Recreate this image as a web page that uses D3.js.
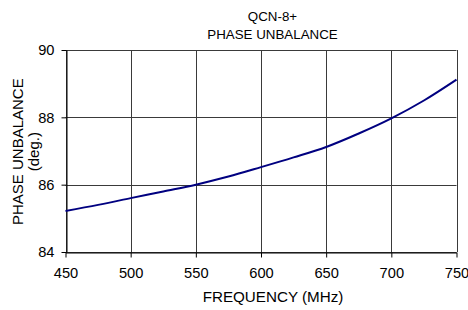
<!DOCTYPE html>
<html>
<head>
<meta charset="utf-8">
<script src="https://cdn.jsdelivr.net/npm/d3@7"></script>
<style>
  body { margin: 0; background: #fff; }
  text { font-family: "Liberation Sans", Arial, sans-serif; fill: #000; }
</style>
</head>
<body>
<div id="chart"></div>
<script>
const width = 468;
const height = 310;

// Data
const freq = [450, 475, 500, 525, 550, 575, 600, 625, 650, 675, 700, 725, 750];
const unbalance = [85.22, 85.40, 85.60, 85.80, 86.00, 86.24, 86.52, 86.81, 87.12, 87.52, 87.97, 88.50, 89.12];
const xTicks = [450, 500, 550, 600, 650, 700, 750];
const yTicks = [84, 86, 88, 90];
const titleLines = ["QCN-8+", "PHASE UNBALANCE"];

const margin = {left: 65.5, right: 11.5, top: 50, bottom: 58};

const svg = d3.select("#chart")
    .append("svg")
    .attr("width", width)
    .attr("height", height);

const x = d3.scaleLinear()
    .domain([450, 750])
    .range([margin.left, width - margin.right]);
const y = d3.scaleLinear()
    .domain([84, 90])
    .range([height - margin.bottom, margin.top]);

// grid
const grid = svg.append("g").attr("stroke", "#3a3a3a").attr("stroke-width", 1);
grid.selectAll("line.v")
    .data(xTicks)
    .join("line")
    .attr("class", "v")
    .attr("x1", d => Math.round(x(d)) + 0.5)
    .attr("x2", d => Math.round(x(d)) + 0.5)
    .attr("y1", y(90))
    .attr("y2", y(84));
grid.selectAll("line.h")
    .data(yTicks)
    .join("line")
    .attr("class", "h")
    .attr("x1", x(450))
    .attr("x2", x(750))
    .attr("y1", d => Math.round(y(d)) + 0.5)
    .attr("y2", d => Math.round(y(d)) + 0.5);

// axes
const xAxis = svg.append("g")
    .attr("transform", `translate(0,${Math.round(y(84)) + 0.5})`)
    .call(d3.axisBottom(x).tickValues(xTicks).tickFormat(d3.format("d"))
        .tickSize(5).tickSizeOuter(0).tickPadding(10));
const yAxis = svg.append("g")
    .attr("transform", `translate(${Math.round(x(450)) + 0.5},0)`)
    .call(d3.axisLeft(y).tickValues(yTicks).tickFormat(d3.format("d"))
        .tickSize(5).tickSizeOuter(0).tickPadding(7));
[xAxis, yAxis].forEach(g => {
    g.selectAll("path, line").attr("stroke", "#000");
    g.selectAll("text")
        .style("font-size", "14.67px")
        .style("font-family", "'Liberation Sans', Arial, sans-serif")
        .attr("fill", "#000");
});

// curve
svg.append("path")
    .datum(freq.map((f, i) => [f, unbalance[i]]))
    .attr("fill", "none")
    .attr("stroke", "#000080")
    .attr("stroke-width", 2)
    .attr("d", d3.line().x(d => x(d[0])).y(d => y(d[1])).curve(d3.curveMonotoneX));

// titles
svg.selectAll("text.title")
    .data(titleLines)
    .join("text")
    .attr("class", "title")
    .attr("x", 272.5)
    .attr("y", (d, i) => 20.7 + i * 18.6)
    .attr("text-anchor", "middle")
    .style("font-size", "13.33px")
    .text(d => d);

svg.append("text")
    .attr("x", 273)
    .attr("y", 302)
    .attr("text-anchor", "middle")
    .style("font-size", "15.2px")
    .text("FREQUENCY (MHz)");

const yLabel = svg.append("text")
    .attr("transform", `translate(0,151.7) rotate(-90)`)
    .attr("text-anchor", "middle")
    .style("font-size", "15px");
yLabel.append("tspan").attr("x", 0).attr("y", 23.3).text("PHASE UNBALANCE");
yLabel.append("tspan").attr("x", 0).attr("y", 38.5).text("(deg.)");
</script>
</body>
</html>
